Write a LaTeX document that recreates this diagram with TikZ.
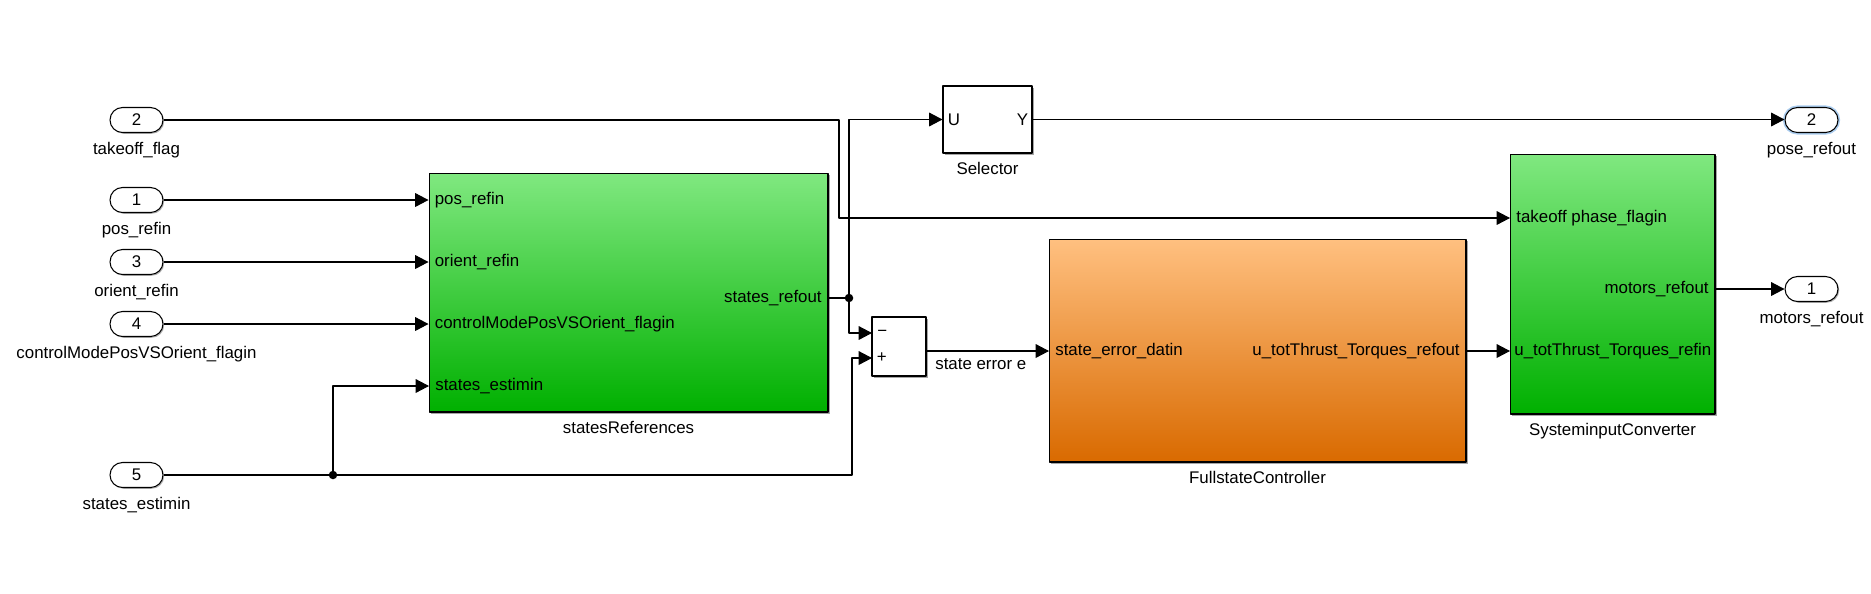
\documentclass[tikz,border=0pt]{standalone}
\usepackage{fontspec}
\setmainfont{Liberation Sans}
\usetikzlibrary{calc,arrows.meta,shadows}
\definecolor{grtop}{RGB}{128,232,128}
\definecolor{grbot}{RGB}{0,176,0}
\definecolor{ortop}{RGB}{255,192,128}
\definecolor{orbot}{RGB}{217,106,0}
\definecolor{selblue}{RGB}{172,206,240}
\tikzset{
  blk/.style={draw,line width=0.6pt,inner sep=0,
    drop shadow={shadow xshift=0.04cm,shadow yshift=-0.04cm,fill=black!35,opacity=1}},
  grblk/.style={blk,top color=grtop,bottom color=grbot},
  orblk/.style={blk,top color=ortop,bottom color=orbot},
  wtblk/.style={blk,fill=white},
  iport/.style={draw,line width=0.6pt,fill=white,rounded corners=0.25cm,
    minimum width=1.06cm,minimum height=0.5cm,inner sep=0,
    drop shadow={shadow xshift=0.025cm,shadow yshift=-0.025cm,fill=black!30,opacity=1}},
  pin/.style={anchor=west,inner sep=0,xshift=0.12cm},
  pout/.style={anchor=east,inner sep=0,xshift=-0.12cm},
  wire/.style={line width=0.6pt},
  sig/.style={wire,-{Triangle[length=7.6pt,width=7.8pt]}},
  jdot/.style={circle,fill,inner sep=0,minimum size=0.17cm},
}
\begin{document}
\begin{tikzpicture}[x=0.02cm,y=-0.02cm,line join=round,
    font=\fontsize{9.6}{11.5}\selectfont,
    label distance=0.17cm,every label/.style={inner sep=0}]
    \useasboundingbox (0,0) rectangle (1871,593);
    % inports
    \node[iport,label=below:takeoff\_flag]                  (in2) at (136.5,120) {2};
    \node[iport,label=below:pos\_refin]                     (in1) at (136.5,200) {1};
    \node[iport,label=below:orient\_refin]                  (in3) at (136.5,262) {3};
    \node[iport,label=below:controlModePosVSOrient\_flagin] (in4) at (136.5,324) {4};
    \node[iport,label=below:states\_estimin]                (in5) at (136.5,475) {5};
    % outports
    \node[iport,preaction={draw=selblue,line width=2.4pt},
          label=below:pose\_refout]                         (out2) at (1811.5,120) {2};
    \node[iport,label=below:motors\_refout]                 (out1) at (1811.5,289) {1};
    % blocks
    \node[grblk,minimum width=7.98cm,minimum height=4.78cm,label=below:statesReferences]     (sr)  at (628.5,292.5) {};
    \node[wtblk,minimum width=1.78cm,minimum height=1.34cm,label=below:Selector]             (sel) at (987.5,119.5) {};
    \node[wtblk,minimum width=1.08cm,minimum height=1.18cm]                                  (sum) at (899,346.5) {};
    \node[orblk,minimum width=8.34cm,minimum height=4.46cm,label=below:FullstateController]  (fsc) at (1257.5,350.5) {};
    \node[grblk,minimum width=4.1cm,minimum height=5.2cm,label=below:SysteminputConverter]   (sic) at (1612.5,284) {};
    % ports
    \coordinate (sr-est) at (429,386);
    \coordinate (sr-out) at (828,298);
    \coordinate (sum-m)  at (872,333);
    \coordinate (sum-p)  at (872,358);
    \coordinate (sum-o)  at (926,351);
    \coordinate (fsc-in) at (1049,351);
    \coordinate (fsc-out) at (1466,351);
    \coordinate (sic-tk) at (1510,218);
    \coordinate (sic-u)  at (1510,351);
    \coordinate (sic-o)  at (1715,289);
    \node[pin] at (sr.west |- in1) {pos\_refin};
    \node[pin] at (sr.west |- in3) {orient\_refin};
    \node[pin] at (sr.west |- in4) {controlModePosVSOrient\_flagin};
    \node[pin] at (sr-est) {states\_estimin};
    \node[pout] at (sr-out) {states\_refout};
    \node[pin,xshift=-0.02cm] at (sel.west) {U};
    \node[pout,xshift=0.04cm] at (sel.east) {Y};
    \node[pin,xshift=-0.02cm] at (sum-m) {−};
    \node[pin,xshift=-0.03cm] at (sum-p) {+};
    \node[pin] at (fsc-in) {state\_error\_datin};
    \node[pout] at (fsc-out) {u\_totThrust\_Torques\_refout};
    \node[pin] at (sic-tk) {takeoff phase\_flagin};
    \node[pin,xshift=-0.04cm] at (sic-u) {u\_totThrust\_Torques\_refin};
    \node[pout] at (sic-o) {motors\_refout};
    % junctions
    \node[jdot] (j1) at (849,298) {};
    \node[jdot] (j2) at (333,475) {};
    \coordinate (k1) at (839,218);
    \coordinate (k2) at (852,475);
    % signals
    \draw[sig] (in1) -- (in1 -| sr.west);
    \draw[sig] (in3) -- (in3 -| sr.west);
    \draw[sig] (in4) -- (in4 -| sr.west);
    \draw[sig] (in2) -| (k1) -- (sic-tk);
    \draw[wire] (sr-out) -- (j1.center);
    \draw[sig] (j1.center) |- (sel.west);
    \draw[sig] (j1.center) |- (sum-m);
    \draw[wire] (in5) -- (j2.center);
    \draw[sig] (j2.center) |- (sr-est);
    \draw[sig] (j2.center) -- (k2) |- (sum-p);
    \draw[sig] (sum-o) -- (fsc-in);
    \node[anchor=west,inner sep=0] (err) at (935,364) {state error e};
    \draw[sig] (fsc-out) -- (sic-u);
    \draw[sig] (sel.east) -- (sel.east -| out2.west);
    \draw[sig] (sic-o) -- (out1);
\end{tikzpicture}
\end{document}
